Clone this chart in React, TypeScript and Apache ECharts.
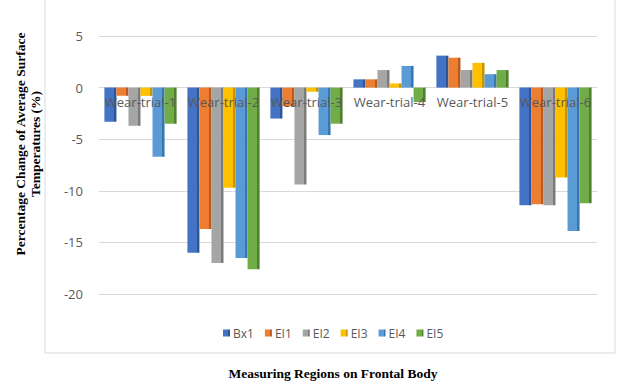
import React, { useEffect, useRef } from "react";
import * as echarts from "echarts";

// Measuring regions (x categories)
const categories = [
  "Wear-trial-1",
  "Wear-trial-2",
  "Wear-trial-3",
  "Wear-trial-4",
  "Wear-trial-5",
  "Wear-trial-6",
];

// Percentage change of average surface temperature per trial
const bx1 = [-3.3, -16.0, -3.0, 0.8, 3.1, -11.4];
const ei1 = [-0.8, -13.7, -1.8, 0.8, 2.9, -11.3];
const ei2 = [-3.7, -17.0, -9.4, 1.7, 1.7, -11.4];
const ei3 = [-0.8, -9.7, -0.4, 0.4, 2.4, -8.7];
const ei4 = [-6.7, -16.5, -4.6, 2.1, 1.3, -13.9];
const ei5 = [-3.5, -17.6, -3.5, -1.4, 1.7, -11.2];

const seriesNames = ["Bx1", "EI1", "EI2", "EI3", "EI4", "EI5"];
const seriesData = [bx1, ei1, ei2, ei3, ei4, ei5];
const colors = ["#4472C4", "#ED7D31", "#A5A5A5", "#FFC000", "#5B9BD5", "#70AD47"];
const sideColors = ["#2F5597", "#B85A1E", "#7B7B7B", "#C49300", "#3A77B0", "#4E8030"];

// Value-axis range
const yMin = -20;
const yMax = 5;

// Plot box
const gridTop = 36;
const gridBottom = 93;
const chartH = 387;

// Horizontal gradient: flat front face with a darker strip on the right as a side face
function faceFill(i: number) {
  return new echarts.graphic.LinearGradient(0, 0, 1, 0, [
    { offset: 0, color: colors[i] },
    { offset: 0.76, color: colors[i] },
    { offset: 0.76, color: sideColors[i] },
    { offset: 1, color: sideColors[i] },
  ]);
}

export default function App() {
  const ref = useRef<HTMLDivElement>(null);

  useEffect(() => {
    if (!ref.current) return;
    const chart = echarts.init(ref.current, undefined, { renderer: "svg" });
    // move the category axis up to the zero line of the value axis
    const plotH = chartH - gridTop - gridBottom;
    const zeroFromBottom = (plotH * (0 - yMin)) / (yMax - yMin);
    chart.setOption({
      animation: false,
      backgroundColor: "#ffffff",
      color: colors,
      grid: { left: 99, right: 20, top: gridTop, bottom: gridBottom, containLabel: false },
      legend: {
        data: seriesNames,
        left: 218,
        top: 322,
        icon: "rect",
        itemWidth: 7,
        itemHeight: 7,
        itemGap: 11,
        textStyle: { color: "#595959", fontSize: 12, fontFamily: "Open Sans", padding: [0, 0, 0, -2] },
      },
      xAxis: {
        type: "category",
        data: categories,
        z: 10,
        offset: -zeroFromBottom,
        axisLine: { show: false, onZero: false },
        axisTick: { show: false },
        axisLabel: {
          interval: 0,
          color: "#595959",
          fontSize: 13,
          fontFamily: "Open Sans",
          margin: 8,
        },
      },
      yAxis: {
        type: "value",
        min: yMin,
        max: yMax,
        interval: 5,
        axisLine: { show: false },
        axisTick: { show: false },
        axisLabel: { color: "#595959", fontSize: 13, fontFamily: "Open Sans", margin: 16 },
        splitLine: { lineStyle: { color: "#d9d9d9", width: 1 } },
      },
      series: seriesData.map((d, i) => ({
        name: seriesNames[i],
        type: "bar",
        data: d,
        barGap: "0%",
        barCategoryGap: "13%",
        itemStyle: { color: faceFill(i) },
      })),
      graphic: [
        {
          type: "rect",
          shape: { x: 45, y: -2, width: 570, height: 355 },
          style: { fill: "none", stroke: "#d9d9d9", lineWidth: 1 },
          silent: true,
        },
        {
          type: "text",
          x: 28,
          y: 144,
          rotation: Math.PI / 2,
          style: {
            text: "Percentage Change of Average Surface\nTemperatures (%)",
            fontFamily: "Liberation Serif",
            fontWeight: "bold",
            fontSize: 13.5,
            lineHeight: 15,
            fill: "#000000",
            align: "center",
            verticalAlign: "middle",
          },
        },
        {
          type: "text",
          x: 333,
          y: 373,
          style: {
            text: "Measuring Regions on Frontal Body",
            fontFamily: "Liberation Serif",
            fontWeight: "bold",
            fontSize: 13.5,
            fill: "#000000",
            align: "center",
            verticalAlign: "middle",
          },
        },
      ],
    });
    return () => chart.dispose();
  }, []);

  return (
    <div
      ref={ref}
      style={{ position: "fixed", left: 0, top: 0, width: 617, height: 387 }}
    />
  );
}
